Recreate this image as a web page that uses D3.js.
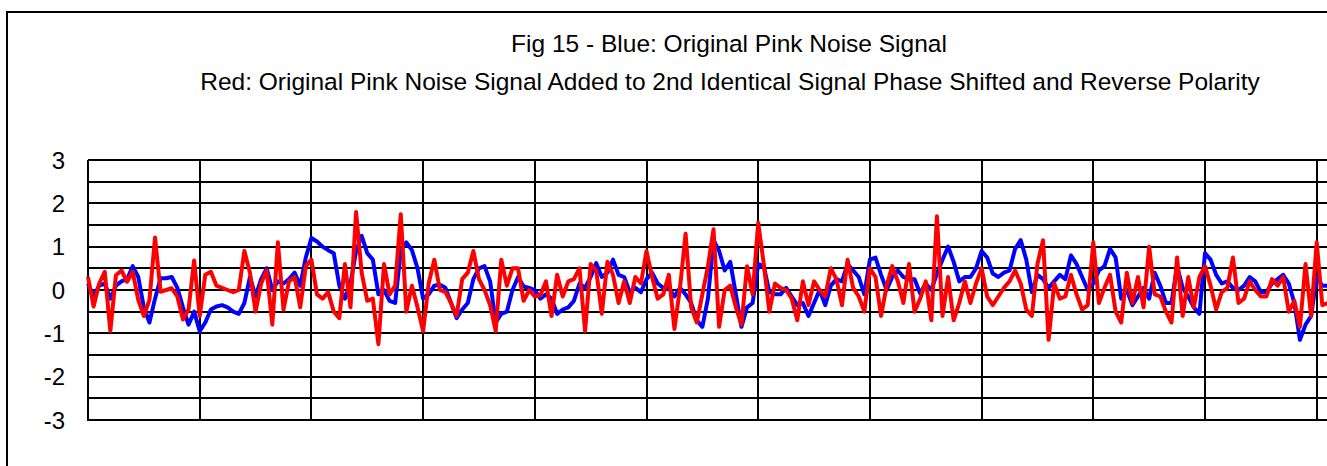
<!DOCTYPE html>
<html>
<head>
<meta charset="utf-8">
<script src="https://cdn.jsdelivr.net/npm/d3@7"></script>
<style>
  html, body { margin: 0; padding: 0; background: #fff; overflow: hidden; }
  svg { display: block; }
</style>
</head>
<body>
<svg id="chart" width="1327" height="466"></svg>
<script>
// ---- data ----
const titleLines = [
  "Fig 15 - Blue: Original Pink Noise Signal",
  "Red: Original Pink Noise Signal Added to 2nd Identical Signal Phase Shifted and Reverse Polarity"
];
const yTickLabels = [3, 2, 1, 0, -1, -2, -3];
const yGridValues = [3, 2.5, 2, 1.5, 1, 0.5, 0, -0.5, -1, -1.5, -2, -2.5, -3];
const xGridValues = [0, 20, 40, 60, 80, 100, 120, 140, 160, 180, 200, 220];

const blueValues = [
  0.15, -0.15, 0.1, 0.15, -0.2, 0.1, 0.2, 0.25, 0.55, 0.3, -0.4, -0.75, -0.2, 0.27, 0.27, 0.3, 0.05, -0.4, -0.8, -0.5,
  -0.95, -0.75, -0.45, -0.38, -0.35, -0.4, -0.5, -0.55, -0.3, 0.3, -0.15, 0.25, 0.5, 0.0, 0.2, 0.15, 0.25, 0.4, 0.1, 0.75,
  1.2, 1.12, 1.0, 0.92, 0.85, 0.1, -0.2, 0.15, 0.9, 1.25, 0.85, 0.7, -0.1, 0.0, -0.25, -0.3, 0.9, 1.1, 0.92, 0.5,
  -0.2, -0.1, 0.1, 0.12, 0.05, -0.3, -0.65, -0.45, -0.3, 0.25, 0.5, 0.55, 0.2, -0.75, -0.55, -0.5, 0.0, 0.3, 0.08, 0.05,
  0.0, -0.2, -0.1, -0.2, -0.55, -0.45, -0.4, -0.25, 0.15, 0.05, 0.3, 0.62, 0.3, 0.4, 0.7, 0.35, 0.3, -0.05, 0.05, -0.05,
  0.25, 0.4, 0.15, 0.05, 0.05, -0.15, 0.05, -0.1, -0.3, -0.7, -0.85, -0.2, 1.15, 0.9, 0.45, 0.65, -0.1, -0.85, -0.4, -0.3,
  0.6, 0.55, -0.05, -0.1, -0.1, 0.05, -0.15, -0.35, -0.3, -0.6, -0.3, 0.0, -0.35, 0.1, 0.25, 0.2, 0.6, 0.45, 0.3, -0.1,
  0.7, 0.75, 0.35, 0.0, 0.3, 0.45, 0.3, 0.25, 0.25, -0.08, 0.15, 0.0, 0.38, 0.7, 1.0, 0.65, 0.2, 0.3, 0.3, 0.5,
  0.9, 0.75, 0.38, 0.3, 0.4, 0.45, 0.95, 1.15, 0.7, -0.05, 0.35, 0.25, 0.05, 0.2, 0.35, 0.25, 0.8, 0.6, 0.3, 0.0,
  0.15, 0.45, 0.55, 0.95, 0.75, -0.2, 0.0, -0.35, -0.15, 0.05, -0.2, 0.4, 0.1, -0.3, -0.3, 0.55, 0.05, -0.15, -0.4, -0.55,
  0.85, 0.7, 0.35, 0.15, 0.2, 0.05, 0.0, 0.1, 0.3, 0.2, -0.05, -0.05, 0.15, 0.25, 0.35, 0.15, -0.3, -1.15, -0.8, -0.6, 0.3, 0.1, 0.1
];

const redValues = [
  0.3, -0.38, 0.15, 0.42, -0.95, 0.34, 0.45, 0.19, 0.42, -0.23, -0.6, -0.23, 1.21, -0.04, 0.0, 0.04, -0.15, -0.68, -0.45, 0.68,
  -0.6, 0.35, 0.42, 0.1, 0.05, 0.0, -0.05, 0.0, 0.9, 0.4, -0.5, 0.15, 0.45, -0.8, 1.1, -0.45, 0.2, 0.3, -0.4, 0.55,
  0.7, -0.1, -0.2, -0.05, -0.5, -0.65, 0.6, -0.4, 1.8, 0.4, -0.25, -0.2, -1.25, 0.6, -0.1, 0.1, 1.75, -0.5, 0.1, -0.4,
  -0.95, 0.15, 0.7, 0.0, -0.05, -0.3, -0.6, 0.25, 0.4, 0.9, 0.25, 0.0, -0.35, -0.95, 0.7, 0.1, 0.5, 0.5, -0.25, 0.0,
  -0.15, -0.12, 0.2, -0.6, 0.35, -0.15, 0.2, 0.25, 0.5, -0.95, 0.6, 0.45, -0.55, 0.65, 0.35, -0.3, 0.2, -0.3, 0.3, 0.15,
  0.9, 0.3, -0.2, -0.1, 0.35, -0.9, 0.05, 1.3, -0.4, -0.75, -0.1, 0.55, 1.4, -0.85, 0.0, 0.1, -0.4, -0.8, 0.55, -0.1,
  1.55, 0.6, -0.5, 0.15, 0.05, 0.0, -0.2, -0.7, 0.2, -0.35, 0.2, 0.0, -0.15, 0.5, 0.25, -0.35, 0.7, 0.05, -0.15, -0.5,
  0.5, 0.3, -0.6, 0.1, 0.55, 0.2, -0.3, 0.6, -0.5, -0.2, 0.2, -0.7, 1.7, -0.6, 0.3, -0.7, -0.3, 0.2, -0.3, 0.15,
  0.5, -0.15, -0.35, -0.15, 0.05, 0.2, 0.45, 0.15, -0.45, -0.6, 0.6, 1.15, -1.15, 0.15, -0.2, -0.15, 0.35, -0.1, -0.45, -0.35,
  1.1, -0.3, 0.05, 0.35, -0.5, -0.75, 0.4, -0.3, 0.3, -0.4, 1.0, -0.1, -0.15, -0.5, -0.75, 0.75, -0.6, 0.3, -0.4, 0.3,
  0.55, 0.1, -0.45, -0.05, 0.05, 0.75, -0.3, -0.2, 0.2, 0.0, -0.15, -0.15, 0.25, 0.1, 0.3, -0.5, -0.25, -0.85, 0.6, -0.6, 1.1, -0.35, -0.3
];

// ---- drawing ----
const svg = d3.select("#chart");
const FONT = "'Liberation Sans', Arial, sans-serif";

// outer frame (extends past the right/bottom of the picture)
svg.append("rect")
  .attr("x", 7).attr("y", 12).attr("width", 1500).attr("height", 600)
  .attr("fill", "#fff").attr("stroke", "#000").attr("stroke-width", 2);

const x = d3.scaleLinear().domain([0, 220]).range([88, 1316.7]);
const y = d3.scaleLinear().domain([-3, 3]).range([420, 160]);

// title
const t = svg.append("g").attr("font-family", FONT).attr("fill", "#000").attr("text-anchor", "middle");
const t1 = t.append("text").attr("x", 729).attr("y", 52).attr("font-size", 20).text(titleLines[0]);
const t2 = t.append("text").attr("x", 730).attr("y", 90).attr("font-size", 20).text(titleLines[1]);
// fit line 2 to its width in the reference
const w2 = t2.node().getComputedTextLength();
const fs = 20 * 1060 / w2;
t1.attr("font-size", fs);
t2.attr("font-size", fs);

// horizontal gridlines
svg.append("g")
  .selectAll("line").data(yGridValues).join("line")
  .attr("x1", x(0)).attr("x2", 1330)
  .attr("y1", d => Math.round(y(d))).attr("y2", d => Math.round(y(d)))
  .attr("stroke", "#000").attr("stroke-width", 2).attr("shape-rendering", "crispEdges");

// vertical gridlines
svg.append("g")
  .selectAll("line").data(xGridValues).join("line")
  .attr("x1", d => Math.round(x(d))).attr("x2", d => Math.round(x(d)))
  .attr("y1", y(3)).attr("y2", y(-3) + 1)
  .attr("stroke", "#000").attr("stroke-width", 2).attr("shape-rendering", "crispEdges");

// y axis labels
svg.append("g").attr("font-family", FONT).attr("font-size", 24).attr("fill", "#000")
  .attr("text-anchor", "end")
  .selectAll("text").data(yTickLabels).join("text")
  .attr("x", 65).attr("y", d => y(d)).attr("dy", "0.36em")
  .text(d => d);

const line = d3.line().x((d, i) => x(i)).y(d => y(d));

svg.append("path").datum(blueValues)
  .attr("d", line).attr("fill", "none").attr("stroke", "#0000ff")
  .attr("stroke-width", 4).attr("stroke-linejoin", "round");

svg.append("path").datum(redValues)
  .attr("d", line).attr("fill", "none").attr("stroke", "#ff0000")
  .attr("stroke-width", 4).attr("stroke-linejoin", "round");
</script>
</body>
</html>
